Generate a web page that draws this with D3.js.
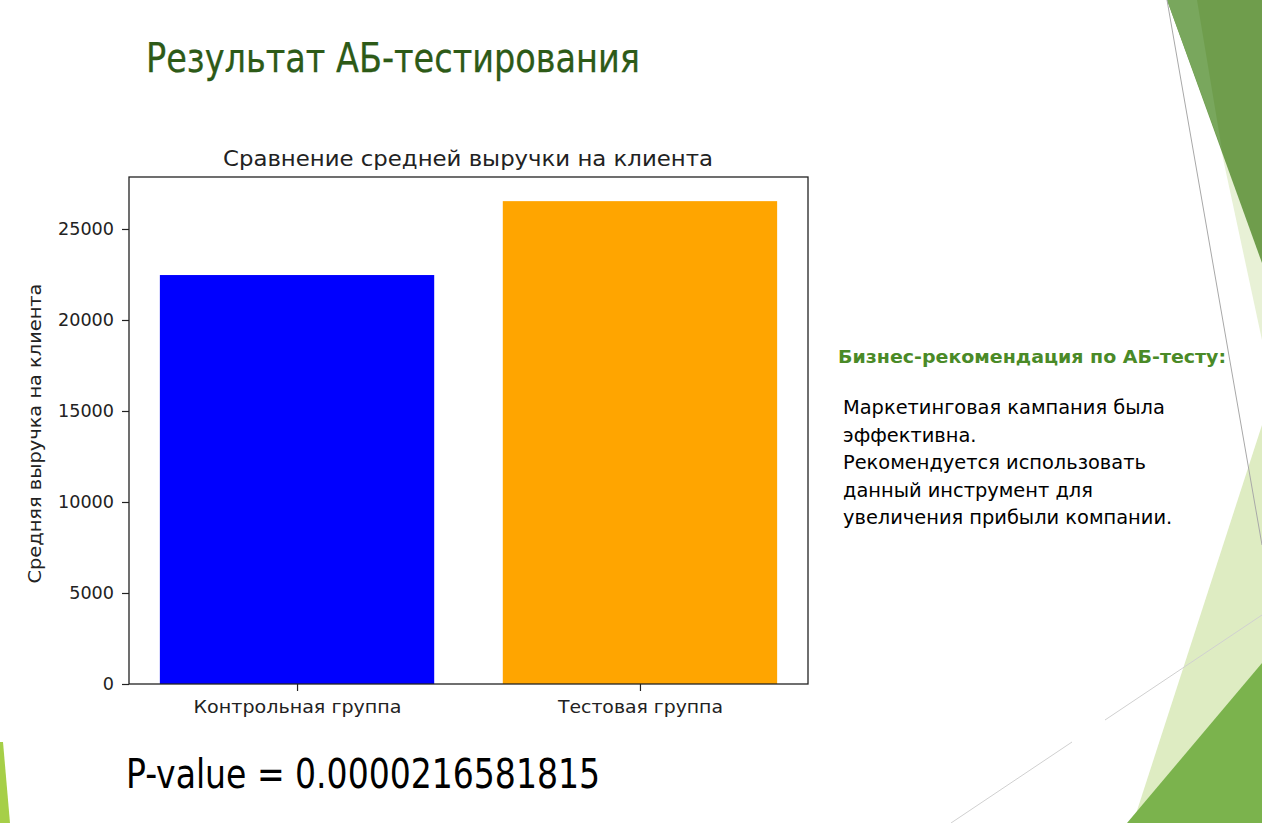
<!DOCTYPE html>
<html><head><meta charset="utf-8">
<script src="https://cdn.jsdelivr.net/npm/d3@7"></script>
<style>html,body{margin:0;padding:0;background:#fff;}svg{display:block;}</style>
</head><body>
<svg id="c" width="1262" height="823"></svg>
<script>
const categories = ["Контрольная группа", "Тестовая группа"];
const values = [22470, 26530];
const barColors = ["#0000ff", "#ffa500"];
const yTicks = [0, 5000, 10000, 15000, 20000, 25000];
const slideTitle = "Результат АБ-тестирования";
const chartTitle = "Сравнение средней выручки на клиента";
const yLabel = "Средняя выручка на клиента";
const pValueText = "P-value = 0.0000216581815";
const recTitle = "Бизнес-рекомендация по АБ-тесту:";
const recLines = ["Маркетинговая кампания была", "эффективна.", "Рекомендуется использовать", "данный инструмент для", "увеличения прибыли компании."];

const svg = d3.select("#c");

// decorative shapes
const deco = svg.append("g");
const poly = (pts, fill) => deco.append("polygon").attr("points", pts.map(p => p.join(",")).join(" ")).attr("fill", fill);
poly([[1189,0],[1262,0],[1262,340]], "#e8f1d6");
poly([[1167,0],[1262,0],[1262,263]], "#6f9d4c");
poly([[1167,0],[1197,0],[1222,150]], "#79a75d");
poly([[1262,425],[1262,823],[1133,823]], "#deecc2");
poly([[1262,663],[1262,823],[1127,823]], "#7bb34d");
poly([[0,742],[3,742],[10,823],[0,823]], "#a6cf48");
deco.append("line").attr("x1",1167).attr("y1",0).attr("x2",1262).attr("y2",545).attr("stroke","#a8a8a8").attr("stroke-width",1);
deco.append("line").attr("x1",1262).attr("y1",615).attr("x2",1105).attr("y2",720).attr("stroke","#d0d0d0").attr("stroke-width",1);
deco.append("line").attr("x1",1072).attr("y1",742).attr("x2",951).attr("y2",823).attr("stroke","#d0d0d0").attr("stroke-width",1);

// slide title
svg.append("text").attr("x",146).attr("y",72).attr("fill","#2d5a17").attr("stroke","#2d5a17").attr("stroke-width",0.25)
  .attr("font-family","'Liberation Sans Narrow','DejaVu Sans Condensed','Open Sans',sans-serif")
  .attr("font-size",40).attr("textLength",494).attr("lengthAdjust","spacingAndGlyphs").text(slideTitle);

// chart
const L=129, R=808, T=177, B=684;
const x = d3.scaleLinear().domain([-0.49, 1.49]).range([L, R]);
const y = d3.scaleLinear().domain([0, d3.max(values)*1.05]).range([B, T]);
const g = svg.append("g").attr("font-family","'DejaVu Sans',sans-serif");

g.selectAll("rect.bar").data(values).enter().append("rect").attr("class","bar")
  .attr("x",(d,i)=>x(i-0.4)).attr("width",(d,i)=>x(i+0.4)-x(i-0.4))
  .attr("y",d=>y(d)).attr("height",d=>y(0)-y(d)).attr("fill",(d,i)=>barColors[i]);

const yAxis = d3.axisLeft(y).tickValues(yTicks).tickSize(7).tickPadding(8).tickFormat(d3.format("d"));
const ya = g.append("g").attr("transform",`translate(${L},0)`).call(yAxis);
ya.select(".domain").remove();
ya.selectAll("text").attr("font-size",17.6).attr("fill","#222").attr("font-family","'DejaVu Sans',sans-serif");
ya.selectAll("line").attr("stroke","#222").attr("stroke-width",1.2);

const xLabelWidths = [208, 165];
const xAxis = d3.axisBottom(x).tickValues([0,1]).tickSize(7).tickPadding(10).tickFormat(i=>categories[i]);
const xa = g.append("g").attr("transform",`translate(0,${B})`).call(xAxis);
xa.select(".domain").remove();
xa.selectAll("text").attr("font-size",17.5).attr("fill","#222").attr("font-family","'DejaVu Sans',sans-serif")
  .attr("textLength",(d,i)=>xLabelWidths[i]).attr("lengthAdjust","spacingAndGlyphs");
xa.selectAll("line").attr("stroke","#222").attr("stroke-width",1.2);

g.append("rect").attr("x",L).attr("y",T).attr("width",R-L).attr("height",B-T)
  .attr("fill","none").attr("stroke","#222").attr("stroke-width",1.3);

g.append("text").attr("x",(L+R)/2 - 0.5).attr("y",166).attr("text-anchor","middle")
  .attr("font-size",20.5).attr("fill","#222").attr("textLength",490).attr("lengthAdjust","spacingAndGlyphs").text(chartTitle);

g.append("text").attr("transform",`translate(41,${(T+B)/2 + 3}) rotate(-90)`).attr("text-anchor","middle")
  .attr("font-size",18).attr("fill","#222").attr("textLength",300).attr("lengthAdjust","spacingAndGlyphs").text(yLabel);

// p-value
svg.append("text").attr("x",126).attr("y",788).attr("fill","#000")
  .attr("font-family","'Liberation Sans Narrow','DejaVu Sans Condensed','Open Sans',sans-serif")
  .attr("font-size",40).attr("textLength",474).attr("lengthAdjust","spacingAndGlyphs").text(pValueText);

// recommendations
svg.append("text").attr("x",838).attr("y",363).attr("fill","#4a8a27").attr("font-weight","bold")
  .attr("font-family","'DejaVu Sans',sans-serif").attr("font-size",18)
  .attr("textLength",388).attr("lengthAdjust","spacingAndGlyphs").text(recTitle);
const rt = svg.append("text").attr("font-family","'DejaVu Sans',sans-serif").attr("font-size",19.4).attr("fill","#000");
recLines.forEach((s,i)=>{
  rt.append("tspan").attr("x",843).attr("y",414+i*27.5).text(s);
});
</script>
</body></html>
